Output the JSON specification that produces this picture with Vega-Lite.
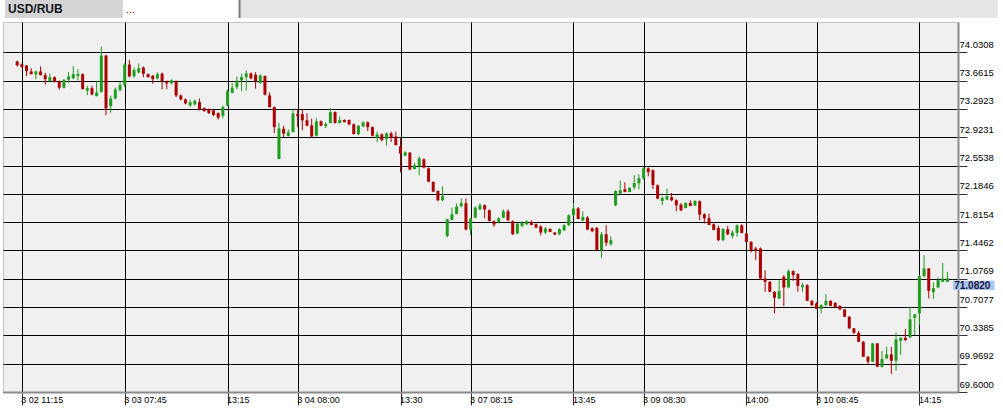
{
"$schema":"https://vega.github.io/schema/vega-lite/v6.json",
"width":955,"height":370,
"autosize":{"type":"none"},
"padding":{"left":3,"top":22,"right":45,"bottom":24},
"background":"white",
"config":{"view":{"fill":"#f0f0f0","stroke":"#c4c4c4"},"font":"Liberation Sans"},
"data":{"values":[
{"i":0,"o":73.911,"h":73.924,"l":73.846,"c":73.859},
{"i":1,"o":73.876,"h":73.885,"l":73.833,"c":73.837},
{"i":2,"o":73.859,"h":73.862,"l":73.720,"c":73.785},
{"i":3,"o":73.781,"h":73.824,"l":73.742,"c":73.746},
{"i":4,"o":73.742,"h":73.794,"l":73.680,"c":73.781},
{"i":5,"o":73.781,"h":73.846,"l":73.729,"c":73.733},
{"i":6,"o":73.733,"h":73.764,"l":73.611,"c":73.680},
{"i":7,"o":73.654,"h":73.755,"l":73.637,"c":73.706},
{"i":8,"o":73.706,"h":73.716,"l":73.637,"c":73.647},
{"i":9,"o":73.654,"h":73.664,"l":73.543,"c":73.569},
{"i":10,"o":73.569,"h":73.677,"l":73.559,"c":73.673},
{"i":11,"o":73.673,"h":73.772,"l":73.628,"c":73.716},
{"i":12,"o":73.693,"h":73.850,"l":73.680,"c":73.746},
{"i":13,"o":73.720,"h":73.811,"l":73.664,"c":73.746},
{"i":14,"o":73.746,"h":73.755,"l":73.546,"c":73.550},
{"i":15,"o":73.530,"h":73.595,"l":73.472,"c":73.563},
{"i":16,"o":73.563,"h":73.595,"l":73.468,"c":73.481},
{"i":17,"o":73.459,"h":73.660,"l":73.455,"c":73.507},
{"i":18,"o":73.511,"h":74.106,"l":73.507,"c":73.989},
{"i":19,"o":73.989,"h":73.995,"l":73.212,"c":73.299},
{"i":20,"o":73.329,"h":73.464,"l":73.243,"c":73.429},
{"i":21,"o":73.429,"h":73.572,"l":73.416,"c":73.546},
{"i":22,"o":73.537,"h":73.654,"l":73.520,"c":73.602},
{"i":23,"o":73.602,"h":73.889,"l":73.576,"c":73.872},
{"i":24,"o":73.872,"h":73.933,"l":73.703,"c":73.716},
{"i":25,"o":73.720,"h":73.833,"l":73.693,"c":73.798},
{"i":26,"o":73.768,"h":73.885,"l":73.755,"c":73.824},
{"i":27,"o":73.833,"h":73.846,"l":73.706,"c":73.751},
{"i":28,"o":73.746,"h":73.755,"l":73.703,"c":73.706},
{"i":29,"o":73.725,"h":73.733,"l":73.621,"c":73.680},
{"i":30,"o":73.690,"h":73.768,"l":73.677,"c":73.746},
{"i":31,"o":73.751,"h":73.768,"l":73.546,"c":73.654},
{"i":32,"o":73.654,"h":73.664,"l":73.550,"c":73.624},
{"i":33,"o":73.628,"h":73.680,"l":73.611,"c":73.664},
{"i":34,"o":73.654,"h":73.664,"l":73.446,"c":73.468},
{"i":35,"o":73.468,"h":73.481,"l":73.403,"c":73.416},
{"i":36,"o":73.416,"h":73.429,"l":73.351,"c":73.364},
{"i":37,"o":73.338,"h":73.416,"l":73.316,"c":73.381},
{"i":38,"o":73.351,"h":73.416,"l":73.338,"c":73.399},
{"i":39,"o":73.381,"h":73.429,"l":73.273,"c":73.290},
{"i":40,"o":73.303,"h":73.312,"l":73.255,"c":73.264},
{"i":41,"o":73.290,"h":73.299,"l":73.225,"c":73.238},
{"i":42,"o":73.273,"h":73.281,"l":73.199,"c":73.212},
{"i":43,"o":73.238,"h":73.247,"l":73.152,"c":73.178},
{"i":44,"o":73.204,"h":73.338,"l":73.169,"c":73.316},
{"i":45,"o":73.338,"h":73.546,"l":73.325,"c":73.524},
{"i":46,"o":73.503,"h":73.628,"l":73.494,"c":73.569},
{"i":47,"o":73.576,"h":73.716,"l":73.550,"c":73.660},
{"i":48,"o":73.664,"h":73.751,"l":73.524,"c":73.709},
{"i":49,"o":73.706,"h":73.794,"l":73.533,"c":73.755},
{"i":50,"o":73.755,"h":73.768,"l":73.677,"c":73.690},
{"i":51,"o":73.738,"h":73.772,"l":73.556,"c":73.651},
{"i":52,"o":73.628,"h":73.742,"l":73.624,"c":73.729},
{"i":53,"o":73.720,"h":73.729,"l":73.468,"c":73.477},
{"i":54,"o":73.468,"h":73.507,"l":73.312,"c":73.316},
{"i":55,"o":73.316,"h":73.325,"l":72.977,"c":73.055},
{"i":56,"o":72.639,"h":73.113,"l":72.635,"c":73.038},
{"i":57,"o":73.034,"h":73.073,"l":72.925,"c":72.969},
{"i":58,"o":72.938,"h":73.025,"l":72.934,"c":72.986},
{"i":59,"o":72.990,"h":73.295,"l":72.986,"c":73.234},
{"i":60,"o":73.225,"h":73.290,"l":73.055,"c":73.199},
{"i":61,"o":73.225,"h":73.290,"l":73.012,"c":73.143},
{"i":62,"o":73.143,"h":73.238,"l":73.065,"c":73.074},
{"i":63,"o":73.078,"h":73.165,"l":72.917,"c":72.934},
{"i":64,"o":72.943,"h":73.173,"l":72.934,"c":73.130},
{"i":65,"o":73.130,"h":73.143,"l":73.065,"c":73.074},
{"i":66,"o":73.068,"h":73.120,"l":73.042,"c":73.094},
{"i":67,"o":73.108,"h":73.303,"l":73.104,"c":73.251},
{"i":68,"o":73.251,"h":73.260,"l":73.100,"c":73.108},
{"i":69,"o":73.108,"h":73.195,"l":73.104,"c":73.147},
{"i":70,"o":73.147,"h":73.156,"l":73.117,"c":73.120},
{"i":71,"o":73.147,"h":73.156,"l":73.078,"c":73.091},
{"i":72,"o":73.091,"h":73.104,"l":72.960,"c":72.964},
{"i":73,"o":72.964,"h":73.078,"l":72.951,"c":73.074},
{"i":74,"o":73.065,"h":73.130,"l":73.052,"c":73.117},
{"i":75,"o":73.117,"h":73.130,"l":73.003,"c":73.055},
{"i":76,"o":73.055,"h":73.065,"l":72.934,"c":72.943},
{"i":77,"o":72.917,"h":72.995,"l":72.860,"c":72.960},
{"i":78,"o":72.960,"h":72.973,"l":72.869,"c":72.886},
{"i":79,"o":72.899,"h":72.986,"l":72.813,"c":72.973},
{"i":80,"o":72.973,"h":72.995,"l":72.860,"c":72.915},
{"i":81,"o":72.934,"h":72.995,"l":72.817,"c":72.821},
{"i":82,"o":72.804,"h":72.912,"l":72.465,"c":72.709},
{"i":83,"o":72.683,"h":72.739,"l":72.674,"c":72.726},
{"i":84,"o":72.722,"h":72.730,"l":72.491,"c":72.504},
{"i":85,"o":72.508,"h":72.592,"l":72.504,"c":72.557},
{"i":86,"o":72.543,"h":72.674,"l":72.426,"c":72.648},
{"i":87,"o":72.635,"h":72.648,"l":72.517,"c":72.527},
{"i":88,"o":72.517,"h":72.530,"l":72.335,"c":72.344},
{"i":89,"o":72.339,"h":72.348,"l":72.205,"c":72.214},
{"i":90,"o":72.222,"h":72.231,"l":72.088,"c":72.101},
{"i":91,"o":72.101,"h":72.283,"l":72.088,"c":72.153},
{"i":92,"o":71.636,"h":71.860,"l":71.615,"c":71.853},
{"i":93,"o":71.844,"h":72.005,"l":71.840,"c":71.918},
{"i":94,"o":71.922,"h":72.058,"l":71.918,"c":72.019},
{"i":95,"o":72.023,"h":72.123,"l":72.010,"c":72.062},
{"i":96,"o":72.062,"h":72.123,"l":71.710,"c":71.719},
{"i":97,"o":71.719,"h":71.866,"l":71.645,"c":71.862},
{"i":98,"o":71.875,"h":72.023,"l":71.866,"c":72.005},
{"i":99,"o":71.983,"h":72.062,"l":71.970,"c":72.036},
{"i":100,"o":72.036,"h":72.049,"l":71.866,"c":71.980},
{"i":101,"o":71.970,"h":71.983,"l":71.827,"c":71.831},
{"i":102,"o":71.827,"h":71.840,"l":71.753,"c":71.784},
{"i":103,"o":71.814,"h":71.879,"l":71.801,"c":71.866},
{"i":104,"o":71.875,"h":71.983,"l":71.866,"c":71.957},
{"i":105,"o":71.957,"h":71.983,"l":71.827,"c":71.840},
{"i":106,"o":71.827,"h":71.840,"l":71.645,"c":71.658},
{"i":107,"o":71.667,"h":71.801,"l":71.658,"c":71.797},
{"i":108,"o":71.766,"h":71.827,"l":71.749,"c":71.810},
{"i":109,"o":71.788,"h":71.840,"l":71.775,"c":71.827},
{"i":110,"o":71.818,"h":71.840,"l":71.775,"c":71.779},
{"i":111,"o":71.788,"h":71.801,"l":71.736,"c":71.745},
{"i":112,"o":71.758,"h":71.775,"l":71.645,"c":71.680},
{"i":113,"o":71.680,"h":71.749,"l":71.658,"c":71.732},
{"i":114,"o":71.727,"h":71.736,"l":71.684,"c":71.688},
{"i":115,"o":71.680,"h":71.684,"l":71.645,"c":71.654},
{"i":116,"o":71.662,"h":71.736,"l":71.645,"c":71.723},
{"i":117,"o":71.710,"h":71.788,"l":71.697,"c":71.775},
{"i":118,"o":71.775,"h":71.918,"l":71.762,"c":71.905},
{"i":119,"o":71.905,"h":72.066,"l":71.892,"c":71.992},
{"i":120,"o":71.996,"h":72.013,"l":71.853,"c":71.857},
{"i":121,"o":71.836,"h":71.957,"l":71.827,"c":71.883},
{"i":122,"o":71.875,"h":71.892,"l":71.710,"c":71.719},
{"i":123,"o":71.736,"h":71.749,"l":71.684,"c":71.697},
{"i":124,"o":71.740,"h":71.753,"l":71.437,"c":71.450},
{"i":125,"o":71.450,"h":71.688,"l":71.349,"c":71.658},
{"i":126,"o":71.658,"h":71.775,"l":71.502,"c":71.545},
{"i":127,"o":71.528,"h":71.632,"l":71.506,"c":71.580},
{"i":128,"o":72.036,"h":72.231,"l":72.023,"c":72.222},
{"i":129,"o":72.188,"h":72.361,"l":72.179,"c":72.231},
{"i":130,"o":72.244,"h":72.335,"l":72.205,"c":72.209},
{"i":131,"o":72.209,"h":72.270,"l":72.205,"c":72.261},
{"i":132,"o":72.270,"h":72.426,"l":72.240,"c":72.326},
{"i":133,"o":72.322,"h":72.439,"l":72.244,"c":72.387},
{"i":134,"o":72.387,"h":72.530,"l":72.374,"c":72.517},
{"i":135,"o":72.517,"h":72.530,"l":72.413,"c":72.469},
{"i":136,"o":72.491,"h":72.504,"l":72.248,"c":72.300},
{"i":137,"o":72.296,"h":72.309,"l":72.114,"c":72.123},
{"i":138,"o":72.092,"h":72.153,"l":72.036,"c":72.131},
{"i":139,"o":72.110,"h":72.253,"l":72.101,"c":72.153},
{"i":140,"o":72.140,"h":72.196,"l":72.088,"c":72.101},
{"i":141,"o":72.101,"h":72.114,"l":71.957,"c":72.036},
{"i":142,"o":72.045,"h":72.062,"l":71.957,"c":71.970},
{"i":143,"o":72.000,"h":72.075,"l":71.996,"c":72.066},
{"i":144,"o":72.066,"h":72.101,"l":72.023,"c":72.026},
{"i":145,"o":72.032,"h":72.101,"l":72.023,"c":72.092},
{"i":146,"o":72.088,"h":72.101,"l":71.840,"c":71.914},
{"i":147,"o":71.918,"h":71.931,"l":71.797,"c":71.866},
{"i":148,"o":71.866,"h":71.927,"l":71.775,"c":71.779},
{"i":149,"o":71.788,"h":71.801,"l":71.710,"c":71.714},
{"i":150,"o":71.740,"h":71.771,"l":71.567,"c":71.580},
{"i":151,"o":71.580,"h":71.736,"l":71.567,"c":71.727},
{"i":152,"o":71.723,"h":71.766,"l":71.645,"c":71.658},
{"i":153,"o":71.636,"h":71.710,"l":71.602,"c":71.680},
{"i":154,"o":71.675,"h":71.788,"l":71.623,"c":71.775},
{"i":155,"o":71.775,"h":71.788,"l":71.671,"c":71.675},
{"i":156,"o":71.667,"h":71.671,"l":71.554,"c":71.558},
{"i":157,"o":71.558,"h":71.567,"l":71.420,"c":71.450},
{"i":158,"o":71.472,"h":71.493,"l":71.319,"c":71.450},
{"i":159,"o":71.472,"h":71.486,"l":71.059,"c":71.081},
{"i":160,"o":71.081,"h":71.189,"l":70.906,"c":71.037},
{"i":161,"o":71.037,"h":71.046,"l":70.902,"c":70.906},
{"i":162,"o":70.906,"h":70.915,"l":70.625,"c":70.828},
{"i":163,"o":70.820,"h":71.059,"l":70.811,"c":70.916},
{"i":164,"o":71.102,"h":71.124,"l":70.720,"c":70.964},
{"i":165,"o":70.964,"h":71.198,"l":70.954,"c":71.176},
{"i":166,"o":71.176,"h":71.189,"l":71.050,"c":71.124},
{"i":167,"o":71.137,"h":71.150,"l":70.906,"c":70.985},
{"i":168,"o":70.967,"h":71.024,"l":70.906,"c":70.993},
{"i":169,"o":70.993,"h":71.007,"l":70.785,"c":70.789},
{"i":170,"o":70.789,"h":70.798,"l":70.720,"c":70.733},
{"i":171,"o":70.755,"h":70.772,"l":70.681,"c":70.685},
{"i":172,"o":70.685,"h":70.746,"l":70.625,"c":70.733},
{"i":173,"o":70.733,"h":70.876,"l":70.720,"c":70.789},
{"i":174,"o":70.789,"h":70.798,"l":70.720,"c":70.724},
{"i":175,"o":70.763,"h":70.772,"l":70.698,"c":70.707},
{"i":176,"o":70.724,"h":70.733,"l":70.668,"c":70.677},
{"i":177,"o":70.677,"h":70.681,"l":70.577,"c":70.581},
{"i":178,"o":70.581,"h":70.590,"l":70.421,"c":70.430},
{"i":179,"o":70.430,"h":70.434,"l":70.356,"c":70.372},
{"i":180,"o":70.372,"h":70.395,"l":70.251,"c":70.255},
{"i":181,"o":70.255,"h":70.264,"l":70.056,"c":70.060},
{"i":182,"o":70.060,"h":70.069,"l":69.961,"c":69.995},
{"i":183,"o":69.995,"h":70.238,"l":69.991,"c":70.234},
{"i":184,"o":70.234,"h":70.238,"l":69.925,"c":69.929},
{"i":185,"o":69.929,"h":70.134,"l":69.918,"c":70.030},
{"i":186,"o":70.039,"h":70.190,"l":70.030,"c":70.091},
{"i":187,"o":70.091,"h":70.190,"l":69.835,"c":70.008},
{"i":188,"o":70.008,"h":70.378,"l":69.878,"c":70.286},
{"i":189,"o":70.268,"h":70.316,"l":70.082,"c":70.307},
{"i":190,"o":70.307,"h":70.421,"l":70.264,"c":70.277},
{"i":191,"o":70.313,"h":70.711,"l":70.304,"c":70.547},
{"i":192,"o":70.568,"h":70.616,"l":70.343,"c":70.612},
{"i":193,"o":70.625,"h":71.124,"l":70.473,"c":71.111},
{"i":194,"o":71.111,"h":71.384,"l":71.098,"c":71.211},
{"i":195,"o":71.211,"h":71.215,"l":70.820,"c":70.919},
{"i":196,"o":70.903,"h":71.029,"l":70.815,"c":70.955},
{"i":197,"o":70.964,"h":71.094,"l":70.954,"c":71.059},
{"i":198,"o":71.037,"h":71.284,"l":71.033,"c":71.081},
{"i":199,"o":71.037,"h":71.167,"l":71.033,"c":71.082}
]},
"layer":[
{"mark":{"type":"rule","strokeWidth":1},
 "encoding":{
  "x":{"field":"i","type":"quantitative","scale":{"domain":[-1.964,200.19],"nice":false,"zero":false},
   "axis":{"orient":"bottom","title":null,"values":[1,23,45,60,82,97,119,134,156,171,193],"tickCount":30,
    "labelExpr":"datum.value==1?'3 02 11:15':datum.value==23?'3 03 07:45':datum.value==45?'13:15':datum.value==60?'3 04 08:00':datum.value==82?'13:30':datum.value==97?'3 07 08:15':datum.value==119?'13:45':datum.value==134?'3 09 08:30':datum.value==156?'14:00':datum.value==171?'3 10 08:45':'14:15'",
    "grid":true,"gridColor":"#000000","gridWidth":1,"gridOpacity":1,
    "domainColor":"#8a8a8a","domainWidth":2,"tickColor":"#333333","tickSize":13,"tickWidth":1,
    "labelAlign":"left","labelBaseline":"top","labelPadding":-10,"labelOffset":-1,
    "labelFont":"Liberation Sans","labelFontSize":9,"labelColor":"#000000","labelOverlap":false,"labelFlush":false,"labelBound":false}},
  "y":{"field":"l","type":"quantitative","scale":{"domain":[69.6,74.426],"nice":false,"zero":false},
   "axis":{"orient":"right","title":null,"values":[74.0308,73.6615,73.2923,72.9231,72.5538,72.1846,71.8154,71.4462,71.0769,70.7077,70.3385,69.9692,69.6],"tickCount":30,
    "format":".4f","grid":true,"gridColor":"#000000","gridWidth":1,"gridOpacity":1,
    "domainColor":"#8a8a8a","domainWidth":2,"tickColor":"#333333","tickSize":9,"tickWidth":1,
    "labelAlign":"left","labelBaseline":"alphabetic","labelPadding":-8,"labelOffset":-5,
    "labelFont":"Liberation Sans","labelFontSize":9.5,"labelColor":"#000000","labelOverlap":false,"labelFlush":false,"labelBound":false}},
  "y2":{"field":"h"},
  "color":{"condition":{"test":"datum.c < datum.o","value":"#ad0000"},"value":"#1f9d1f"}
 }},
{"mark":{"type":"bar","width":3},
 "encoding":{
  "x":{"field":"i","type":"quantitative"},
  "y":{"field":"o","type":"quantitative"},
  "y2":{"field":"c"},
  "color":{"condition":{"test":"datum.c < datum.o","value":"#ad0000"},"value":"#1f9d1f"}
 }},
{"data":{"values":[{"part":"bar"}]},
 "mark":{"type":"rect","clip":false,"color":"#e6e6e6"},
 "encoding":{"x":{"datum":-2.6,"type":"quantitative"},"x2":{"datum":209.72},"y":{"datum":74.713,"type":"quantitative"},"y2":{"datum":74.478}}},
{"data":{"values":[{"part":"tab1"}]},
 "mark":{"type":"rect","clip":false,"color":"#d4d4d4"},
 "encoding":{"x":{"datum":-2.6,"type":"quantitative"},"x2":{"datum":22.59},"y":{"datum":74.713,"type":"quantitative"},"y2":{"datum":74.478}}},
{"data":{"values":[{"part":"tab2"}]},
 "mark":{"type":"rect","clip":false,"color":"#ffffff"},
 "encoding":{"x":{"datum":22.59,"type":"quantitative"},"x2":{"datum":47.57},"y":{"datum":74.713,"type":"quantitative"},"y2":{"datum":74.478}}},
{"data":{"values":[{"part":"tab2edge"}]},
 "mark":{"type":"rule","clip":false,"color":"#7a7a7a","strokeWidth":2},
 "encoding":{"x":{"datum":47.57,"type":"quantitative"},"y":{"datum":74.713,"type":"quantitative"},"y2":{"datum":74.478}}},
{"data":{"values":[{"t":"USD/RUB"}]},
 "mark":{"type":"text","clip":false,"align":"left","baseline":"middle","font":"Liberation Sans","fontSize":12,"fontWeight":"bold","color":"#14141e"},
 "encoding":{"x":{"datum":-1.964,"type":"quantitative"},"y":{"datum":74.595,"type":"quantitative"},"text":{"field":"t"}}},
{"data":{"values":[{"t":"..."}]},
 "mark":{"type":"text","clip":false,"align":"left","baseline":"middle","font":"Liberation Sans","fontSize":11,"color":"#8b0000"},
 "encoding":{"x":{"datum":23.226,"type":"quantitative"},"y":{"datum":74.585,"type":"quantitative"},"text":{"field":"t"}}},
{"data":{"values":[{"price":71.082,"t":"71.0820"}]},
 "mark":{"type":"rect","clip":false,"color":"#a9c4ee"},
 "encoding":{"x":{"datum":200.19,"type":"quantitative"},"x2":{"datum":209.08},"y":{"datum":71.052,"type":"quantitative"},"y2":{"datum":70.930}}},
{"data":{"values":[{"price":71.082,"t":"71.0820"}]},
 "mark":{"type":"text","clip":false,"align":"left","baseline":"middle","font":"Liberation Sans","fontSize":10,"fontWeight":"bold","color":"#1a1a40"},
 "encoding":{"x":{"datum":200.45,"type":"quantitative"},"y":{"datum":70.989,"type":"quantitative"},"text":{"field":"t"}}}
]
}
